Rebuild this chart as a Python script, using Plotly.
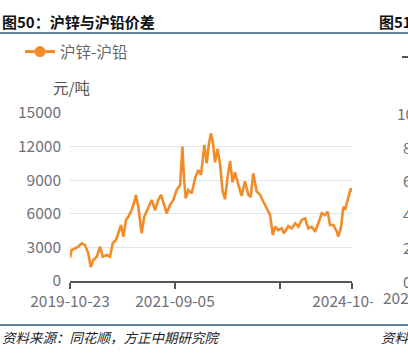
import plotly.graph_objects as go

# ---- data ----
dates = [
    "2019-10-23", "2019-11-03", "2019-11-25", "2019-12-16", "2020-01-07", "2020-01-29",
    "2020-02-19", "2020-03-06", "2020-03-23", "2020-04-14", "2020-05-05", "2020-05-23",
    "2020-06-18", "2020-07-09", "2020-07-27", "2020-08-17", "2020-09-01", "2020-09-19",
    "2020-10-04", "2020-10-21", "2020-11-05", "2020-11-27", "2020-12-12", "2020-12-25",
    "2021-01-09", "2021-01-31", "2021-02-17", "2021-03-15", "2021-04-06", "2021-04-28",
    "2021-05-19", "2021-06-06", "2021-06-27", "2021-07-13", "2021-08-03", "2021-08-25",
    "2021-09-16", "2021-10-08", "2021-10-23", "2021-11-03", "2021-11-14", "2021-12-01",
    "2021-12-23", "2022-01-13", "2022-02-04", "2022-02-21", "2022-03-15", "2022-03-30",
    "2022-04-14", "2022-04-27", "2022-05-10", "2022-05-23", "2022-06-09", "2022-06-25",
    "2022-07-11", "2022-07-27", "2022-08-13", "2022-08-29", "2022-09-14", "2022-09-30",
    "2022-10-20", "2022-11-12", "2022-12-04", "2022-12-26", "2023-01-10", "2023-01-27",
    "2023-02-18", "2023-03-12", "2023-04-02", "2023-04-25", "2023-05-16", "2023-06-03",
    "2023-06-18", "2023-07-09", "2023-07-31", "2023-08-15", "2023-09-12", "2023-10-04",
    "2023-10-26", "2023-11-16", "2023-12-08", "2023-12-30", "2024-01-20", "2024-02-11",
    "2024-03-04", "2024-03-25", "2024-04-16", "2024-05-08", "2024-05-25", "2024-06-09",
    "2024-07-01", "2024-07-23", "2024-08-02", "2024-08-20", "2024-09-04", "2024-09-15",
    "2024-10-06", "2024-10-22", "2024-10-30",
]
spread = [
    2100, 2770, 2920, 3060, 3370, 3210,
    2470, 1250, 1875, 2170, 3060, 2170,
    2320, 2170, 3370, 3660, 4260, 5000,
    3960, 5450, 5740, 6340, 6940, 7680,
    6630, 4260, 5740, 6630, 7230, 6340,
    7230, 7680, 6630, 6050, 6790, 7230,
    8130, 8570, 12000, 9020, 7380, 8130,
    7830, 9170, 9910, 9470, 12150, 10510,
    12300, 13200, 12300, 10600, 11800, 10400,
    8100, 7300, 9300, 10700, 8800, 9700,
    8700, 7600, 8900, 7700, 7500, 9600,
    8000, 7700, 7100, 6500, 5900, 4100,
    4850, 4550, 4700, 4260, 4900, 4700,
    5150, 4850, 5450, 5600, 4700, 4850,
    4400, 5150, 6050, 5890, 6190, 5000,
    5000, 4400, 3960, 4850, 6630, 6340,
    7530, 8270, 7980,
]
series_name = "沪锌-沪铅"
y_ticks = [0, 3000, 6000, 9000, 12000, 15000]
y_ticktext = ["0", "3000", "6000", "9000", "12000", "15000"]
x_tickvals = ["2019-10-23", "2021-09-05", "2023-07-20", "2024-10-30"]
x_ticktext = ["2019-10-23", "2021-09-05", "", "2024-10-30"]

title_text = "图50：沪锌与沪铅价差"
unit_text = "元/吨"
source_text = "资料来源：同花顺，方正中期研究院"
# neighbouring (cut-off) panel texts
next_title = "图51"
next_source = "资料"
next_y_labels = ["10", "8", "6", "4", "2", "0"]
next_x_label = "202"

ORANGE = "#F28C28"
GRAY = "#6E7079"
FONT = "Noto Sans CJK SC"
W, H = 408, 354
L, R, T, B = 70, 56, 113, 73

fig = go.Figure()
fig.add_trace(go.Scatter(
    x=dates, y=spread, mode="lines", showlegend=False,
    line=dict(color=ORANGE, width=2.6), name=series_name,
))
# legend entry (line + circle symbol)
fig.add_trace(go.Scatter(
    x=[None], y=[None], mode="lines+markers", name=series_name,
    line=dict(color=ORANGE, width=3),
    marker=dict(color=ORANGE, size=11, symbol="circle"),
))

def px_x(p):
    return (p - L) / (W - L - R)

def px_y(p):
    return (H - B - p) / (H - T - B)

fig.update_layout(
    width=W, height=H,
    margin=dict(l=L, r=R, t=T, b=B),
    paper_bgcolor="white", plot_bgcolor="white",
    font=dict(family=FONT, size=15, color=GRAY),
    showlegend=True,
    legend=dict(
        orientation="h", x=px_x(20), y=px_y(52), xanchor="left", yanchor="middle",
        font=dict(family=FONT, size=15.5, color="#666666"),
        bgcolor="rgba(0,0,0,0)", itemclick=False,
    ),
    xaxis=dict(
        type="date", range=["2019-10-23", "2024-10-30"],
        tickmode="array", tickvals=x_tickvals, ticktext=x_ticktext,
        showgrid=False, zeroline=False,
        showline=True, linecolor="#555555", linewidth=1.5,
        ticks="outside", ticklen=6, tickcolor="#555555", tickwidth=1.5,
        tickfont=dict(family=FONT, size=15.5, color=GRAY),
        tickangle=0,
    ),
    yaxis=dict(
        range=[0, 15000], tickmode="array", tickvals=y_ticks, ticktext=y_ticktext,
        showgrid=True, gridcolor="#E0E6F1", gridwidth=1.2,
        zeroline=False, showline=False, ticks="",
        ticklabelstandoff=8,
        tickfont=dict(family=FONT, size=15.5, color=GRAY),
    ),
)

shapes = [
    # cover the overflowing part of the last x label (neighbour panel area)
    dict(type="rect", xref="paper", yref="paper", x0=px_x(373), x1=px_x(W + 5),
         y0=px_y(320), y1=px_y(284), fillcolor="white", line=dict(width=0), layer="above"),
    # title rule and bottom rule
    dict(type="line", xref="paper", yref="paper", x0=px_x(0), x1=px_x(W),
         y0=px_y(33), y1=px_y(33), line=dict(color="#2E5A7E", width=1.5), layer="above"),
    dict(type="line", xref="paper", yref="paper", x0=px_x(0), x1=px_x(W),
         y0=px_y(325), y1=px_y(325), line=dict(color="#2E5A7E", width=1.5), layer="above"),
    # neighbour legend stub
    dict(type="line", xref="paper", yref="paper", x0=px_x(402), x1=px_x(W),
         y0=px_y(57), y1=px_y(57), line=dict(color="#555555", width=2), layer="above"),
]
fig.update_layout(shapes=shapes)

ann = []
ann.append(dict(text="<b>" + title_text + "</b>", x=px_x(0), y=px_y(22), xref="paper", yref="paper",
                xanchor="left", yanchor="middle", showarrow=False,
                font=dict(family=FONT, size=15, color="#111111")))
ann.append(dict(text="<b>" + next_title + "</b>", x=px_x(377), y=px_y(22), xref="paper", yref="paper",
                xanchor="left", yanchor="middle", showarrow=False,
                font=dict(family=FONT, size=15, color="#111111")))
ann.append(dict(text=unit_text, x=px_x(71), y=px_y(87), xref="paper", yref="paper",
                xanchor="center", yanchor="middle", showarrow=False,
                font=dict(family=FONT, size=15.5, color="#555555")))
ann.append(dict(text=source_text, x=px_x(0), y=px_y(337), xref="paper", yref="paper",
                xanchor="left", yanchor="middle", showarrow=False,
                font=dict(family=FONT, size=13.5, color="#222222", style="italic")))
ann.append(dict(text=next_source, x=px_x(379), y=px_y(337), xref="paper", yref="paper",
                xanchor="left", yanchor="middle", showarrow=False,
                font=dict(family=FONT, size=13.5, color="#222222", style="italic")))
for lab, v in zip(next_y_labels, [15000, 12000, 9000, 6000, 3000, 0]):
    xs = 395 if len(lab) > 1 else 401
    ann.append(dict(text=lab, x=px_x(xs), y=v, xref="paper", yref="y",
                    xanchor="left", yanchor="middle", showarrow=False,
                    font=dict(family=FONT, size=15.5, color=GRAY)))
ann.append(dict(text=next_x_label, x=px_x(381), y=px_y(297), xref="paper", yref="paper",
                xanchor="left", yanchor="middle", showarrow=False,
                font=dict(family=FONT, size=15.5, color=GRAY)))
fig.update_layout(annotations=ann)

fig.write_html("out.html")
